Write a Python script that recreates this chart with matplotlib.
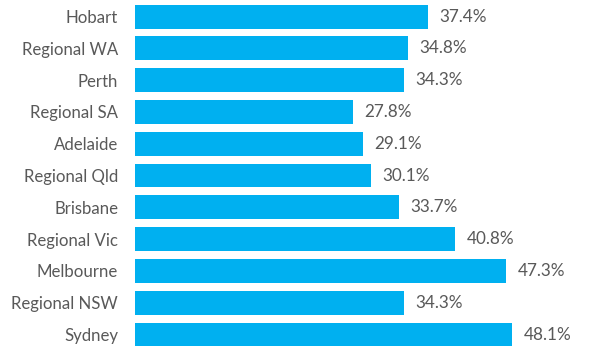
import matplotlib.pyplot as plt

regions = ['Hobart', 'Regional WA', 'Perth', 'Regional SA', 'Adelaide',
           'Regional Qld', 'Brisbane', 'Regional Vic', 'Melbourne',
           'Regional NSW', 'Sydney']
values = [37.4, 34.8, 34.3, 27.8, 29.1, 30.1, 33.7, 40.8, 47.3, 34.3, 48.1]

plt.rcParams['font.family'] = ['Lato', 'DejaVu Sans']

fig = plt.figure(figsize=(5.99, 3.57), dpi=100)
ax = fig.add_axes([0.225, 0.0185, 0.72, 0.9795])

ypos = list(range(len(regions)))
ax.barh(ypos, values, height=0.75, color='#00B0F0')

for y, v in zip(ypos, values):
    ax.text(v + 1.5, y, f'{v:.1f}%', va='center', ha='left',
            fontsize=12.3, color='#595959')

ax.set_yticks(ypos)
ax.set_yticklabels(regions, fontsize=12.1, color='#595959')
ax.set_ylim(len(regions) - 0.5, -0.5)
ax.set_xlim(0, 55)
ax.set_xticks([])
ax.tick_params(axis='y', length=0, pad=12)
for s in ax.spines.values():
    s.set_visible(False)

fig.savefig('out.png', dpi=100)
